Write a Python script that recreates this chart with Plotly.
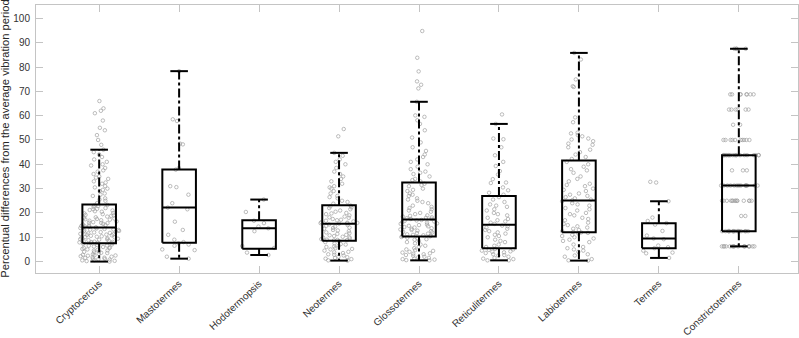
import plotly.graph_objects as go

categories = ["Cryptocercus", "Mastotermes", "Hodotermopsis", "Neotermes", "Glossotermes",
              "Reticulitermes", "Labiotermes", "Termes", "Constrictotermes"]

# box statistics
lower_whisker = [0.0, 1.2, 2.7, 0.4, 0.5, 0.5, 0.4, 1.5, 6.25]
q1 = [7.5, 7.7, 5.3, 8.6, 10.3, 5.5, 12.1, 5.5, 12.5]
median = [14.0, 22.2, 13.7, 15.5, 17.3, 15.1, 25.1, 9.5, 31.25]
q3 = [23.5, 37.9, 17.0, 23.2, 32.5, 27.0, 41.6, 15.8, 43.75]
upper_whisker = [46.0, 78.3, 25.5, 44.7, 65.7, 56.6, 85.8, 24.8, 87.5]

cryptocercus = [66, 63, 62, 61, 58, 55, 54, 52, 50, 48, 46, 45, 44, 43, 42, 41, 40, 39.5, 38.5, 37.5,
                37, 36, 35, 34.5, 34, 33, 32.5, 32, 31, 30.5, 30, 29.5, 29, 28, 27.5, 27, 26, 25.5, 25, 24,
                23, 22.8, 22.5, 22, 21.7, 21.5, 21, 20.7, 20.5, 20, 19.8, 19.5, 19, 18.8, 18.5, 18.2, 18,
                17.7, 17.5, 17.2, 17, 16.8, 16.5, 16.2, 16, 15.8, 15.5, 15.3, 15, 14.8, 14.6, 14.4, 14.2,
                14.1, 23.3, 21.2, 19.2, 17.4, 15.9, 14.5,
                13.8, 13.6, 13.4, 13.2, 13, 12.8, 12.6, 12.4, 12.2, 12, 11.8, 11.6, 11.4, 11.2, 11, 10.8,
                10.6, 10.4, 10.2, 10, 9.8, 9.6, 9.4, 9.2, 9, 8.8, 8.6, 8.4, 8.2, 8, 7.9, 7.8, 7.7, 7.6,
                13.1, 12.1, 11.1, 10.1, 9.1, 8.1,
                7.3, 7, 6.8, 6.5, 6.2, 6, 5.8, 5.5, 5.2, 5, 4.8, 4.5, 4.2, 4, 3.8, 3.5, 3.2, 3, 2.8, 2.5,
                2.2, 2, 1.8, 1.5, 1.2, 1, 0.8, 0.5, 0.3, 0, 6.6, 5.6, 4.6, 3.6, 2.6, 1.6, 0.6, 1.1, 0.2, 2.4]
mastotermes = [78.3, 58.5, 57.8, 48.5, 48.2, 38.5, 37.8, 31, 30.6, 27.5, 24, 22.2, 21.5, 16.4, 13, 11,
               9, 8, 7.5, 7, 6.5, 5, 4.7, 2, 1.2]
hodotermopsis = [25.5, 20.4, 16.8, 15.8, 14.4, 13.7, 12.5, 6.4, 5.6, 3.7, 2.7]
neotermes = [54.5, 51.5, 44.7, 43.5, 42, 41, 40, 38.5, 37, 36, 35, 34, 33, 32, 31, 30.5, 30, 29, 28, 27,
             26.5, 26, 25, 24.5, 23.8,
             23, 22.7, 22.3, 22, 21.5, 21, 20.5, 20, 19.8, 19.5, 19, 18.5, 18.2, 18, 17.5, 17.2, 17, 16.8,
             16.5, 16.2, 16, 15.9, 15.8, 15.7, 15.6,
             15.3, 15, 14.7, 14.4, 14, 13.8, 13.5, 13, 12.8, 12.5, 12, 11.7, 11.4, 11, 10.8, 10.5, 10.2,
             10, 9.8, 9.5, 9.2, 9, 8.9, 8.8, 8.7,
             8.4, 8, 7.5, 7.2, 7, 6.5, 6.2, 6, 5.5, 5.2, 5, 4.5, 4, 3.8, 3.5, 3, 2.8, 2.5, 2, 1.8, 1.5,
             1.2, 1, 0.5, 0.4]
glossotermes = [94.8, 83.8, 78.2, 74.1, 72.7, 71.2, 65.7, 60.1, 59.5, 58.1, 56.6, 54, 51, 49, 47, 45.5,
                44, 43, 42, 41, 40, 39, 38, 37, 36.5, 36, 35, 34, 33.5, 33,
                32, 31.5, 31, 30, 29.5, 29, 28, 27.5, 27, 26, 25.5, 25, 24.5, 24, 23, 22.5, 22, 21.5, 21,
                20.5, 20, 19.5, 19, 18.8, 18.5, 18.2, 18, 17.8, 17.6, 17.5,
                17.1, 16.9, 16.7, 16.5, 16.2, 16, 15.7, 15.5, 15.2, 15, 14.7, 14.5, 14.2, 14, 13.7, 13.5,
                13.2, 13, 12.7, 12.5, 12.2, 12, 11.7, 11.5, 11.2, 11, 10.8, 10.6, 10.5, 10.4,
                10.1, 9.8, 9.5, 9.2, 9, 8.5, 8, 7.5, 7, 6.5, 6, 5.5, 5, 4.7, 4.4, 4, 3.7, 3.4, 3, 2.7,
                2.4, 2, 1.8, 1.5, 1.2, 1, 0.8, 0.6, 0.5, 3.2]
reticulitermes = [60.5, 56.6, 50.6, 50.3, 47, 43.7, 41, 39.3, 37.2, 35.8, 33.9, 32.5, 32.3, 30.5, 29.3,
                  28.3, 27.5,
                  26.5, 25.5, 24.5, 23.5, 23, 22.5, 21.5, 21, 20, 19.5, 19, 18, 17.5, 17, 16.5, 16, 15.5,
                  14.8, 14.5, 14, 13.5, 13, 12.5, 12, 11.5, 11, 10.5, 10, 9, 8.5, 8, 7, 6.5, 6,
                  5.2, 5, 4.8, 4.5, 4.2, 4, 3.8, 3.5, 3, 2.7, 2.5, 2, 1.5, 1.2, 1, 0.5, 0.5]
labiotermes = [85.8, 83.1, 74.9, 72.1, 71.8, 59.3, 57.3, 53, 52.7, 52, 51.5, 50.6, 50.2, 49.5, 48.5, 48,
               47, 46, 45, 44, 43, 42.2,
               41, 40, 39, 38, 37.5, 36.5, 35, 34, 33, 32, 31.5, 31, 30, 29.5, 29, 28, 27.5, 27, 26.5,
               26, 25.5, 25.2,
               24.8, 24, 23.5, 23, 22, 21.5, 21, 20, 19.5, 19, 18, 17.5, 17, 16, 15.5, 15, 14.5, 14,
               13.5, 13, 12.5, 12.2,
               12, 11.8, 11.5, 11, 10.5, 10, 9.5, 9, 8.5, 8, 7, 6, 5.5, 5, 4.5, 4, 3, 2.5, 2, 1, 0.5, 0.4]
termes = [32.8, 32.5, 24.8, 18.1, 16.7, 15.8, 15.2, 12.6, 10.7, 9.5, 9.2, 6.6, 5.9, 5.5, 4.5, 3.7, 3.4, 1.5]
constrictotermes = ([87.5] * 4 + [68.75] * 8 + [62.5] * 6 + [56.25] * 2 + [50] * 10 + [43.75] * 19 +
                    [37.5] * 3 + [31.25] * 14 + [25] * 14 + [18.75] * 2 + [12.5] * 16 + [6.25] * 16)

samples = [cryptocercus, mastotermes, hodotermopsis, neotermes, glossotermes,
           reticulitermes, labiotermes, termes, constrictotermes]

positions = list(range(1, len(categories) + 1))
BOX_HALF = 0.21
CAP_HALF = 0.11

fig = go.Figure()

# jittered raw points (library jitter), invisible boxes
for pos, vals in zip(positions, samples):
    fig.add_trace(go.Box(
        x=[pos] * len(vals), y=vals, orientation="v",
        boxpoints="all", jitter=1.0, pointpos=0, width=0.5,
        line=dict(width=0, color="rgba(0,0,0,0)"), fillcolor="rgba(0,0,0,0)",
        whiskerwidth=0,
        marker=dict(symbol="circle-open", size=3.5, color="#a0a0a0",
                    line=dict(width=0.7, color="#a0a0a0")),
        showlegend=False, hoverinfo="y",
    ))

# MATLAB-style boxes
bx, by, mx, my, wx, wy, cx, cy = [], [], [], [], [], [], [], []
for p, lw, a, m, b, uw in zip(positions, lower_whisker, q1, median, q3, upper_whisker):
    bx += [p - BOX_HALF, p + BOX_HALF, p + BOX_HALF, p - BOX_HALF, p - BOX_HALF, None]
    by += [a, a, b, b, a, None]
    mx += [p - BOX_HALF, p + BOX_HALF, None]
    my += [m, m, None]
    wx += [p, p, None, p, p, None]
    wy += [b, uw, None, a, lw, None]
    cx += [p - CAP_HALF, p + CAP_HALF, None, p - CAP_HALF, p + CAP_HALF, None]
    cy += [uw, uw, None, lw, lw, None]

fig.add_trace(go.Scatter(x=wx, y=wy, mode="lines", line=dict(color="black", width=2, dash="dashdot"),
                         showlegend=False, hoverinfo="skip"))
fig.add_trace(go.Scatter(x=cx, y=cy, mode="lines", line=dict(color="black", width=2),
                         showlegend=False, hoverinfo="skip"))
fig.add_trace(go.Scatter(x=bx, y=by, mode="lines", line=dict(color="black", width=2),
                         showlegend=False, hoverinfo="skip"))
fig.add_trace(go.Scatter(x=mx, y=my, mode="lines", line=dict(color="black", width=2),
                         showlegend=False, hoverinfo="skip"))

axis_common = dict(showline=True, linecolor="#c4c4c4", linewidth=1, mirror="ticks",
                   ticks="inside", ticklen=7, tickcolor="#c4c4c4", tickwidth=1,
                   showgrid=False, zeroline=False, automargin=False,
                   tickfont=dict(family="Arial, Liberation Sans, sans-serif", size=10, color="#333333"))

fig.update_layout(
    width=799, height=338,
    margin=dict(l=36, r=1, t=5, b=65),
    paper_bgcolor="white", plot_bgcolor="white",
    xaxis=dict(range=[0.21, 9.74], tickvals=positions, ticktext=categories, tickangle=-43,
               **axis_common),
    yaxis=dict(range=[-4.7, 105.5], tickvals=list(range(0, 101, 10)), ticklabelstandoff=3,
               **axis_common),
    annotations=[dict(text="Percentual differences from the average vibration period",
                      xref="paper", yref="paper", x=-0.041, y=0.5, xanchor="center", yanchor="middle",
                      textangle=-90, showarrow=False,
                      font=dict(family="Arial, Liberation Sans, sans-serif", size=11.2, color="#262626"))],
)

fig.write_html("out.html", config={"displayModeBar": False},
               post_script="document.body.style.margin='0px';")
